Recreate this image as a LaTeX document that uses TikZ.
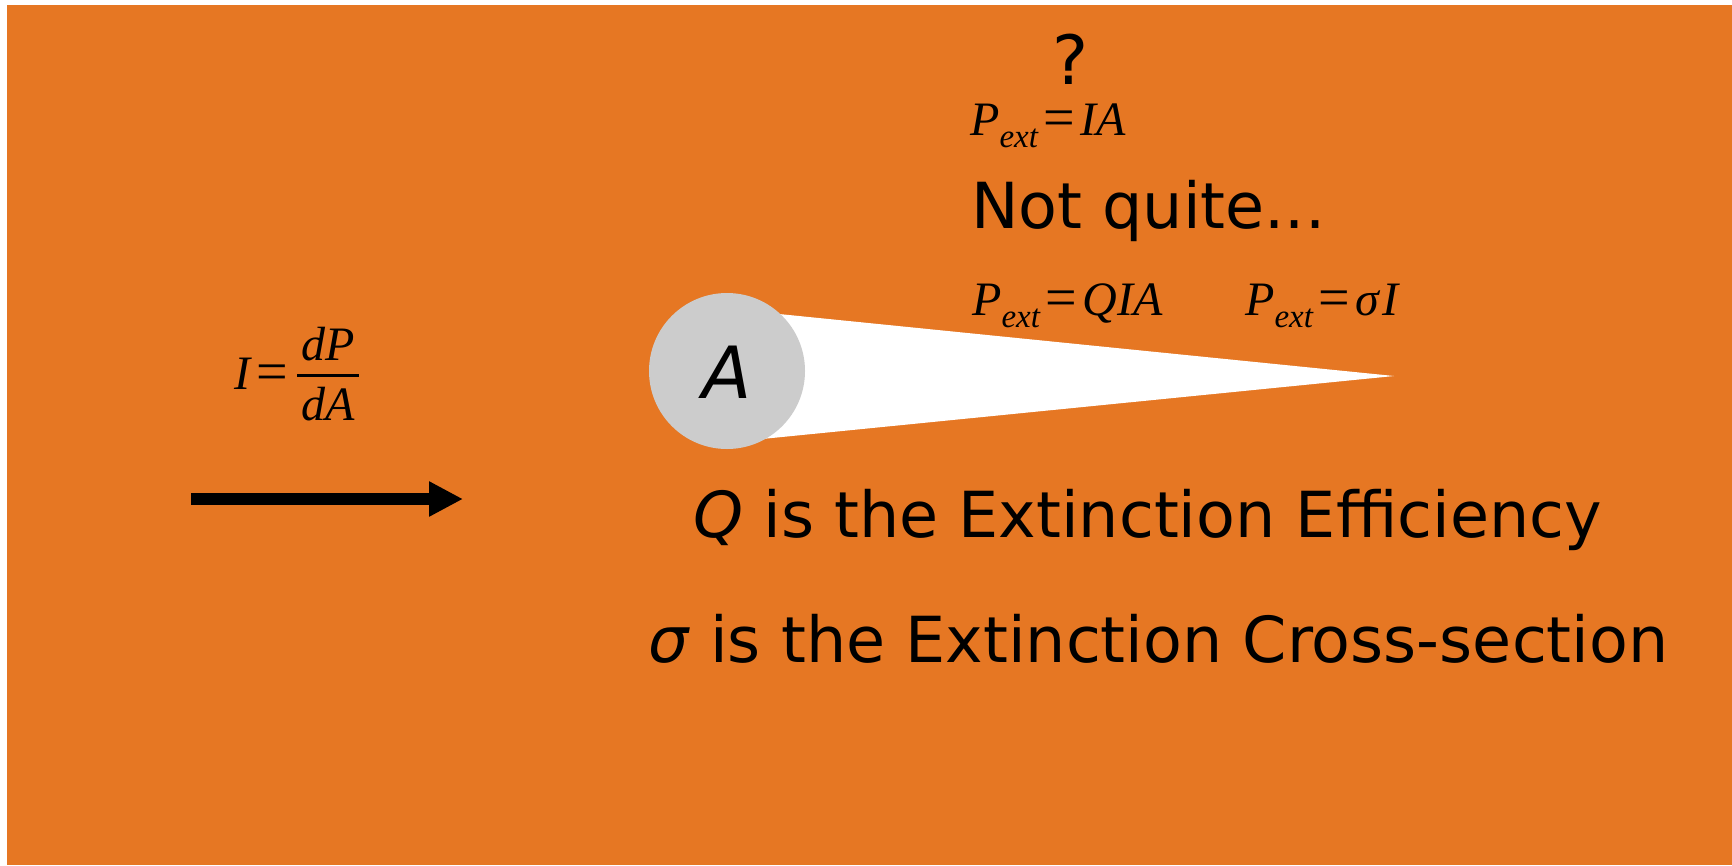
\documentclass[tikz,border=0pt]{standalone}
\usepackage{fontspec}
\setmainfont{DejaVu Sans}
\newfontfamily\eqfont{Liberation Serif}
\usetikzlibrary{arrows.meta}
\definecolor{bgorange}{RGB}{230,119,35}
\definecolor{discgray}{RGB}{204,204,204}
\newcommand{\mbig}{\fontsize{48}{48}\selectfont}
\newcommand{\msub}[1]{\lower12pt\hbox{\fontsize{33}{33}\selectfont\itshape #1}}
\newcommand{\meq}{\kern6pt\lower1pt\hbox{\upshape\fontsize{56}{56}\selectfont =}\kern5pt}
\begin{document}
\begin{tikzpicture}[x=1pt,y=-1pt,
  sans/.style={inner sep=0pt,font=\fontsize{63.5}{63.5}\selectfont},
  eqn/.style={inner sep=0pt,font=\eqfont\mbig}]
\useasboundingbox (0,0) rectangle (1732,865);
\fill[white] (0,0) rectangle (1732,865);
\fill[bgorange] (7,5) rectangle (1732,865);
% cone
\coordinate (ct) at (779,314);
\coordinate (tip) at (1394,376);
\coordinate (cb) at (762,439);
\fill[white] (ct) -- (tip) -- (cb) -- cycle;
\node[circle,fill=discgray,minimum size=156pt,inner sep=0pt] (disc) at (727,371) {};
\node[inner sep=0pt,anchor=base,font=\fontsize{72}{72}\selectfont\itshape] (alab) at (727,398) {A};
% arrow
\coordinate (a1) at (191,499);
\coordinate (a2) at (463,499);
\draw[line width=12pt,-{Triangle[length=34pt,width=33pt]}] (a1) -- (a2);
% I = dP/dA
\node[eqn,anchor=base west] (Ieq) at (234,389) {\itshape I\meq};
\draw[line width=3pt] (297,375) coordinate (fb1) -- (359,375) coordinate (fb2);
\node[eqn,anchor=base] (num) at (328,360) {\itshape dP};
\node[eqn,anchor=base] (den) at (328,420) {\itshape dA};
% top texts
\node[inner sep=0pt,anchor=base,font=\fontsize{68}{68}\selectfont] (q) at (1071,84) {\smash{?}};
\node[eqn,anchor=base west] (p1) at (970,135) {\itshape P\msub{ext}\meq\itshape IA};
\node[sans,anchor=base west] (nq) at (971,228) {Not quite...};
\node[eqn,anchor=base west] (p2) at (972,315) {\itshape P\msub{ext}\meq\itshape QIA};
\node[eqn,anchor=base west] (p3) at (1245,315) {\itshape P\msub{ext}\meq\itshape σ\kern3pt I};
% bottom texts
\node[sans,anchor=base west] (l1) at (693,537) {\textit{Q} is the Extinction Efficiency};
\node[sans,anchor=base west] (l2) at (648,662) {\textit{σ} is the Extinction Cross-section};
\end{tikzpicture}
\end{document}
